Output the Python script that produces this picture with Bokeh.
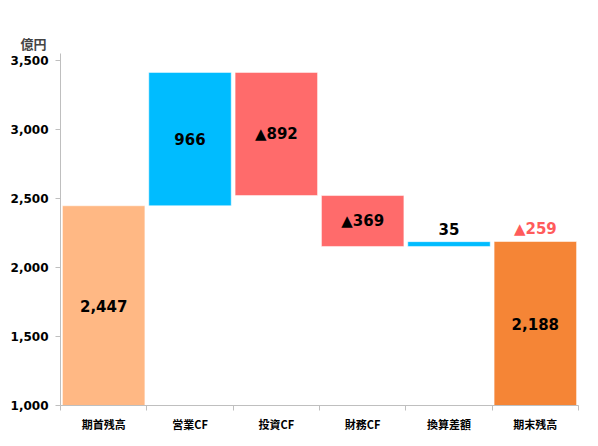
from bokeh.plotting import figure
from bokeh.models import ColumnDataSource, FixedTicker, NumeralTickFormatter
from bokeh.core.properties import value
from bokeh.embed import file_html
from bokeh.resources import INLINE

# ---- data ----
categories = ["期首残高", "営業CF", "投資CF", "財務CF", "換算差額", "期末残高"]
values = [2447, 966, -892, -369, 35, 2188]
kinds = ["total", "delta", "delta", "delta", "delta", "total"]
y_ticks = [1000, 1500, 2000, 2500, 3000, 3500]
unit_label = "億円"

# ---- styles ----
COL_START = "#FFB884"
COL_POS = "#00BCFF"
COL_NEG = "#FF6B6B"
COL_END = "#F58536"
COL_NET = "#FF5B5B"
AXIS_COL = "#BFBFBF"
NUM_FONT = "DejaVu Sans"
JP_FONT = "Noto Sans CJK JP"
Y_MIN, Y_MAX = 1000, 3550

xs, bottoms, tops, colors = [], [], [], []
running = 0
for i, (v, k) in enumerate(zip(values, kinds)):
    xs.append(i + 0.5)
    if k == "total":
        bottoms.append(0)
        tops.append(v)
        running = v
        colors.append(COL_START if i == 0 else COL_END)
    else:
        b, t = running, running + v
        bottoms.append(min(b, t))
        tops.append(max(b, t))
        running = t
        colors.append(COL_POS if v >= 0 else COL_NEG)

def fmt(v):
    return ("▲" if v < 0 else "") + f"{abs(v):,}"

lx, ly, ltext, lcol, loff = [], [], [], [], []
for x, b, t, v in zip(xs, bottoms, tops, values):
    vis_b = max(b, Y_MIN)
    if t - vis_b >= 150:
        lx.append(x); ly.append((vis_b + t) / 2); loff.append(0)
    else:
        lx.append(x); ly.append(t); loff.append(-13)
    ltext.append(fmt(v)); lcol.append("black")

# net change label above final bar
net = values[-1] - values[0]
lx.append(xs[-1]); ly.append(tops[-1]); loff.append(-13)
ltext.append(fmt(net)); lcol.append(COL_NET)

bars = ColumnDataSource(dict(x=xs, bottom=bottoms, top=tops, color=colors))
labels = ColumnDataSource(dict(x=lx, y=ly, text=ltext, color=lcol, off=loff))

p = figure(width=590, height=438, x_range=(0, 6), y_range=(Y_MIN, Y_MAX),
           output_backend="svg", toolbar_location=None,
           min_border_left=60, min_border_right=12, min_border_top=53, min_border_bottom=33)
p.outline_line_color = None
p.xgrid.visible = False
p.ygrid.visible = False
p.background_fill_color = "white"

p.title.text = unit_label
p.title.align = "left"
p.title.offset = -40
p.title.text_font = JP_FONT
p.title.text_font_style = "bold"
p.title.text_font_size = "13px"
p.title.standoff = 2

p.vbar(x="x", width=0.955, bottom="bottom", top="top", fill_color="color",
       line_color="white", line_width=1, line_alpha=0.5, source=bars)

p.text(x="x", y="y", text="text", text_color="color", y_offset="off",
       text_font=value(NUM_FONT), text_font_style="bold", text_font_size="15px",
       text_align="center", text_baseline="middle", source=labels)

# x axis
xa = p.xaxis[0]
xa.ticker = FixedTicker(ticks=xs, minor_ticks=list(range(len(categories) + 1)))
xa.major_label_overrides = {x: c for x, c in zip(xs, categories)}
xa.major_tick_out = 0
xa.major_tick_in = 0
xa.minor_tick_out = 5
xa.minor_tick_in = 0
xa.minor_tick_line_color = AXIS_COL
xa.axis_line_color = AXIS_COL
xa.major_label_text_font = JP_FONT
xa.major_label_text_font_style = "bold"
xa.major_label_text_font_size = "11px"
xa.major_label_text_color = "black"
xa.major_label_standoff = 5

# y axis
ya = p.yaxis[0]
ya.ticker = FixedTicker(ticks=y_ticks)
ya.formatter = NumeralTickFormatter(format="0,0")
ya.major_tick_out = 5
ya.major_tick_in = 0
ya.minor_tick_out = 0
ya.minor_tick_in = 0
ya.major_tick_line_color = AXIS_COL
ya.axis_line_color = AXIS_COL
ya.major_label_text_font = NUM_FONT
ya.major_label_text_font_style = "bold"
ya.major_label_text_font_size = "12px"
ya.major_label_text_color = "black"
ya.major_label_standoff = 7

open("out.html", "w").write(file_html(p, INLINE))
